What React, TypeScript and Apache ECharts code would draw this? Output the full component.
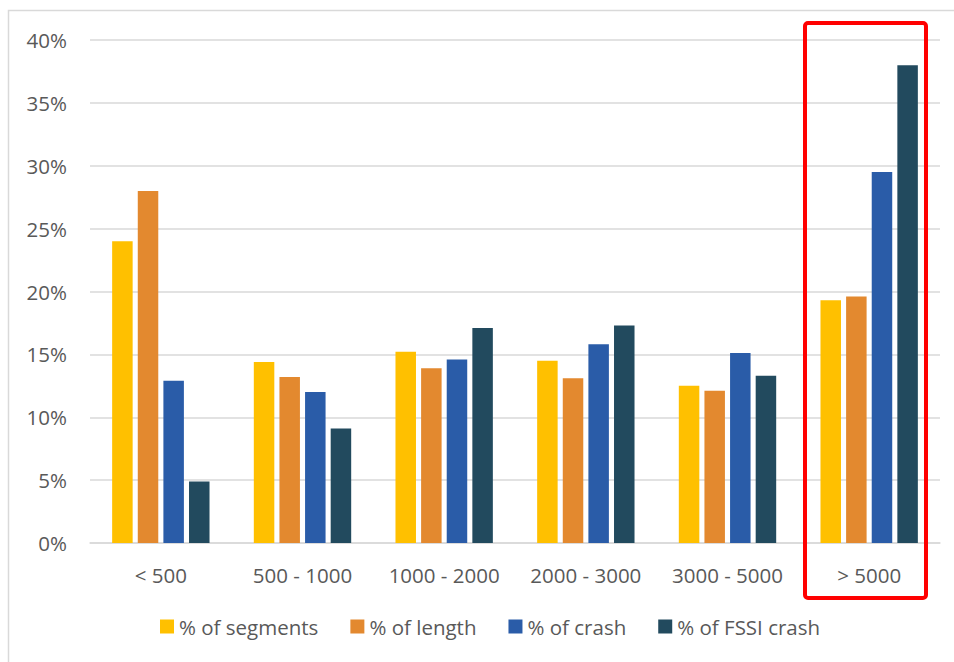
import React, { useEffect, useRef } from "react";
import * as echarts from "echarts";

const categories = ["< 500", "500 - 1000", "1000 - 2000", "2000 - 3000", "3000 - 5000", "> 5000"];
const seriesNames = ["% of segments", "% of length", "% of crash", "% of FSSI crash"];
const segments = [24.0, 14.4, 15.2, 14.5, 12.5, 19.3];
const lengthPct = [28.0, 13.2, 13.9, 13.1, 12.1, 19.6];
const crash = [12.9, 12.0, 14.6, 15.8, 15.1, 29.5];
const fssiCrash = [4.9, 9.1, 17.1, 17.3, 13.3, 38.0];
const yTicks = [0, 5, 10, 15, 20, 25, 30, 35, 40];
const colors = ["#FFC000", "#E3892F", "#2A5CA8", "#224A5E"];

export default function App() {
  const ref = useRef<HTMLDivElement>(null);
  useEffect(() => {
    document.body.style.margin = "0";
    const chart = echarts.init(ref.current!, null, { renderer: "svg" });
    const font = "'Open Sans', 'Noto Sans', sans-serif";
    const data = [segments, lengthPct, crash, fssiCrash];
    chart.setOption({
      animation: false,
      textStyle: { fontFamily: font },
      grid: { left: 90, right: 14, top: 40, bottom: 119 },
      legend: {
        top: 616,
        left: 160,
        padding: 0,
        itemWidth: 14,
        itemHeight: 14,
        itemGap: 32,
        icon: "rect",
        textStyle: { fontSize: 20.5, color: "#595959", fontFamily: font },
        data: seriesNames,
      },
      xAxis: {
        type: "category",
        data: categories,
        axisLine: { lineStyle: { color: "#d9d9d9", width: 1.5 } },
        axisTick: { show: false },
        axisLabel: { fontSize: 20.5, color: "#595959", margin: 21, interval: 0 },
      },
      yAxis: {
        type: "value",
        min: yTicks[0],
        max: yTicks[yTicks.length - 1],
        interval: 5,
        axisLine: { show: false },
        axisTick: { show: false },
        splitLine: { lineStyle: { color: "#d9d9d9", width: 1.5 } },
        axisLabel: { fontSize: 20.5, color: "#595959", margin: 23, formatter: "{value}%" },
      },
      series: seriesNames.map((name, i) => ({
        name,
        type: "bar",
        data: data[i],
        barWidth: 20.5,
        barGap: "25%",
        itemStyle: { color: colors[i] },
      })),
      graphic: [
        {
          type: "rect",
          shape: { x: 8.5, y: 10.5, width: 1000, height: 700 },
          style: { fill: "none", stroke: "#d9d9d9", lineWidth: 1.5 },
          silent: true,
        },
        {
          type: "rect",
          shape: { x: 805, y: 23, width: 121, height: 575, r: 3 },
          style: { fill: "none", stroke: "#FF0000", lineWidth: 4 },
          silent: true,
          z: 100,
        },
      ],
    });
    return () => chart.dispose();
  }, []);
  return <div ref={ref} style={{ width: 954, height: 662 }} />;
}
